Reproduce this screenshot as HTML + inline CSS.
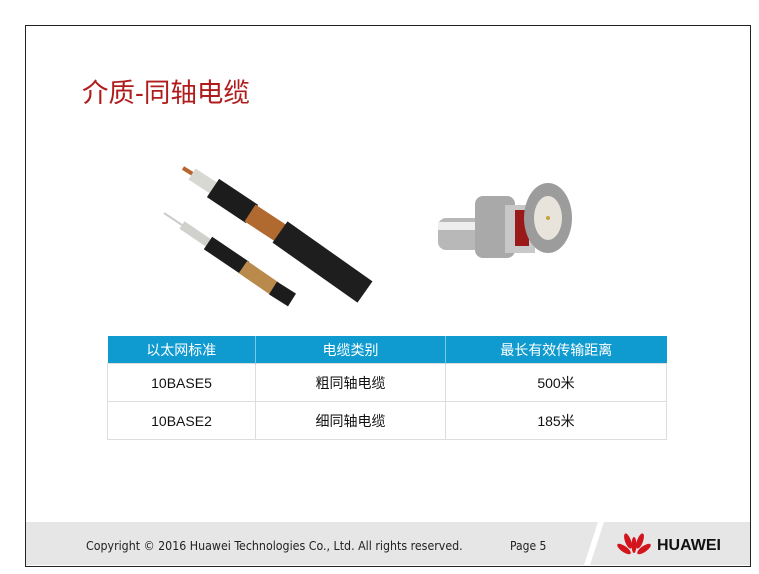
<!DOCTYPE html>
<html><head><meta charset="utf-8"><style>
body{margin:0;width:759px;height:574px;background:#fff;position:relative;overflow:hidden;font-family:"Liberation Sans","Noto Sans CJK SC",sans-serif}
.frame{position:absolute;left:25px;top:25px;width:724px;height:540px;border:1px solid #222;box-sizing:content-box}
.title{position:absolute;left:82px;top:71px;font-size:26.5px;color:#b01c1c}
.footer{position:absolute;left:26px;top:522px;width:724px;height:43px;background:#e6e6e6}
.copy{position:absolute;left:86px;top:539px;font-size:12.3px;color:#222;font-family:"DejaVu Sans Condensed","Liberation Sans Narrow",sans-serif}
.page{position:absolute;left:510px;top:539px;font-size:12px;color:#222;font-family:"DejaVu Sans Condensed",sans-serif}
.hw{position:absolute;left:657px;top:537px;font-size:16px;font-weight:bold;color:#111}
table{position:absolute;left:107px;top:336px;width:559px;border-collapse:collapse;table-layout:fixed;font-size:14px}
th{background:#0f9bd0;color:#fff;font-weight:normal;height:27px;padding:0;border-right:1px solid #7cc9e6}
td{height:37px;padding:0;text-align:center;border:1px solid #ddd;color:#111}
</style></head><body>
<div class="frame"></div>
<div class="title">介质-同轴电缆</div>
<svg style="position:absolute;left:0;top:0" width="759" height="574">
<g stroke-linecap="butt">
<line x1="183" y1="168" x2="196" y2="176" stroke="#b8652d" stroke-width="4"/>
<line x1="192" y1="174" x2="215" y2="189" stroke="#d8d8d2" stroke-width="13"/>
<line x1="213" y1="188" x2="252" y2="214" stroke="#1c1c1c" stroke-width="22"/>
<line x1="250" y1="213" x2="282" y2="234" stroke="#b0692e" stroke-width="20"/>
<line x1="280" y1="232" x2="365" y2="292" stroke="#1e1e1e" stroke-width="26"/>
<line x1="164" y1="213" x2="182" y2="225" stroke="#ccc" stroke-width="2"/>
<line x1="182" y1="225" x2="210" y2="244" stroke="#d0d0cc" stroke-width="9"/>
<line x1="208" y1="243" x2="245" y2="268" stroke="#1c1c1c" stroke-width="15"/>
<line x1="243" y1="267" x2="275" y2="289" stroke="#b98a4c" stroke-width="15"/>
<line x1="273" y1="288" x2="292" y2="300" stroke="#1c1c1c" stroke-width="15"/>
</g>
<rect x="438" y="218" width="60" height="32" rx="8" fill="#b8b8b8"/>
<rect x="438" y="222" width="60" height="8" fill="#eee"/>
<rect x="475" y="196" width="40" height="62" rx="8" fill="#a9a9a9"/>
<rect x="505" y="205" width="30" height="48" fill="#c8c8c8"/>
<rect x="515" y="210" width="14" height="36" fill="#9a1a1a"/>
<ellipse cx="548" cy="218" rx="24" ry="35" fill="#9c9c9c"/>
<ellipse cx="548" cy="218" rx="14" ry="22" fill="#e8e4dc"/>
<circle cx="548" cy="218" r="2" fill="#c9a23a"/>
</svg>
<table>
<colgroup><col style="width:148px"><col style="width:190px"><col style="width:221px"></colgroup>
<tr><th>以太网标准</th><th>电缆类别</th><th style="border-right:none">最长有效传输距离</th></tr>
<tr><td>10BASE5</td><td>粗同轴电缆</td><td>500米</td></tr>
<tr><td>10BASE2</td><td>细同轴电缆</td><td>185米</td></tr>
</table>
<div class="footer"></div>
<svg style="position:absolute;left:0;top:0" width="759" height="574"><polygon points="598,522 604,522 590,565 584,565" fill="#fff"/>
<g fill="#d3141c"><ellipse cx="628" cy="541" rx="3" ry="8" transform="rotate(-20 628 541)"/><ellipse cx="640" cy="541" rx="3" ry="8" transform="rotate(20 640 541)"/><ellipse cx="624" cy="549" rx="3" ry="8" transform="rotate(-55 624 549)"/><ellipse cx="644" cy="549" rx="3" ry="8" transform="rotate(55 644 549)"/><ellipse cx="634" cy="545" rx="2.5" ry="8"/></g></svg>
<div class="copy">Copyright © 2016 Huawei Technologies Co., Ltd. All rights reserved.</div>
<div class="page">Page 5</div>
<div class="hw">HUAWEI</div>
</body></html>
